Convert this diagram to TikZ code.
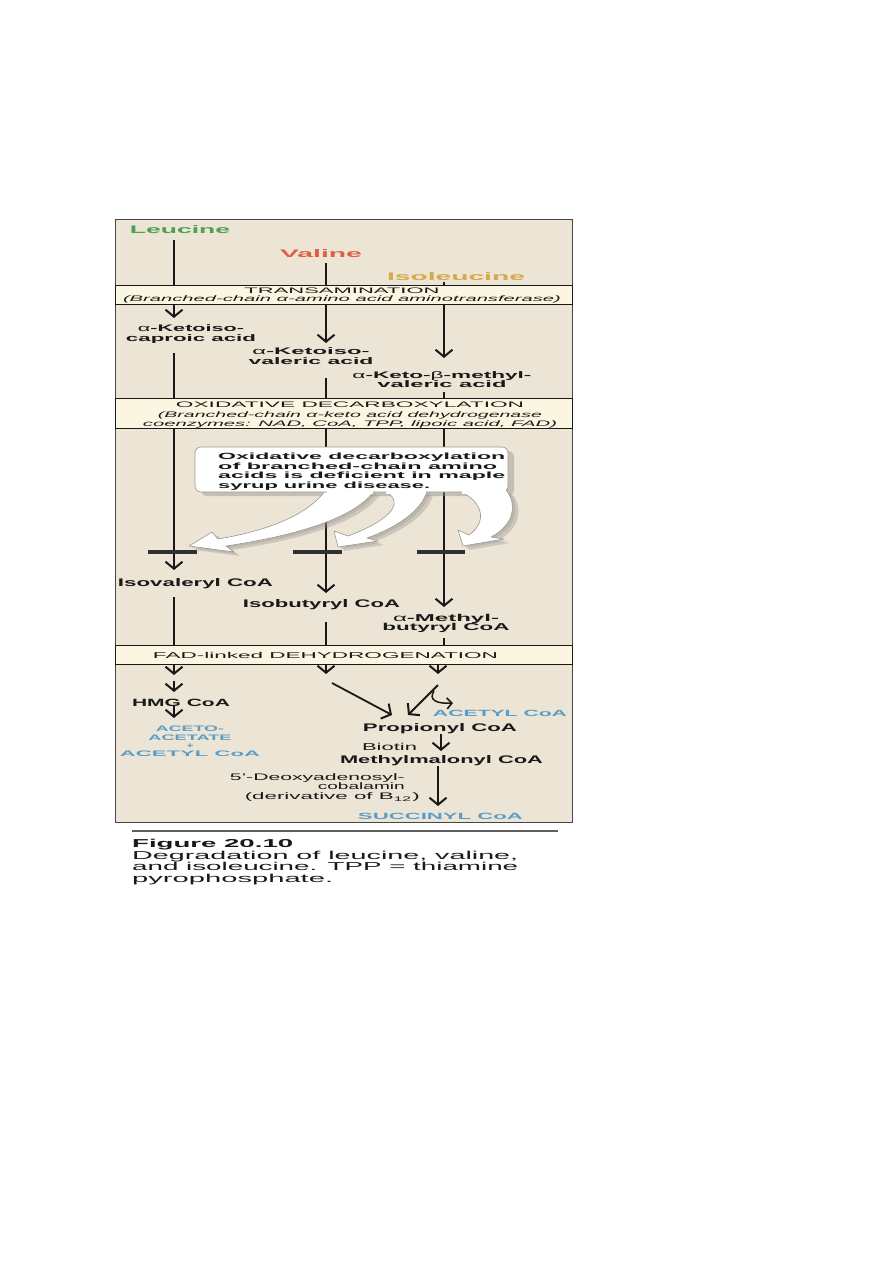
\documentclass[tikz,border=0pt]{standalone}
\usepackage{fontspec}
\setmainfont{Liberation Sans}
\usepackage{graphicx}
\usetikzlibrary{arrows.meta,calc}
\newcommand\fw[2]{\resizebox{#1pt}{\height}{#2}}
\newcommand\fs[2]{\fontsize{#1}{#2}\selectfont}
\definecolor{bg}{RGB}{236,228,213}
\definecolor{boxfill}{RGB}{250,246,226}
\definecolor{leuc}{RGB}{78,160,85}
\definecolor{valc}{RGB}{222,95,65}
\definecolor{ilec}{RGB}{214,170,72}
\definecolor{bluec}{RGB}{88,158,200}
\definecolor{ink}{RGB}{25,25,25}
\definecolor{shade}{RGB}{150,145,140}
\newcommand\pathA{(325,491) .. controls (305,518) and (260,532) .. (218,539) -- (212,532) -- (189,546) -- (234,552) -- (226,546) .. controls (280,538) and (352,522) .. (374,491) -- cycle}
\newcommand\pathB{(384,491) .. controls (404,500) and (396,518) .. (348,536) -- (334,531) -- (338,547) -- (378,541) -- (367,538) .. controls (398,527) and (422,510) .. (427,491) -- cycle}
\newcommand\pathC{(460,491) .. controls (484,503) and (487,522) .. (469,535) -- (458,530) -- (463,546) -- (504,539) -- (491,537) .. controls (514,525) and (517,505) .. (507,491) -- cycle}
\newcommand\pathBox{[rounded corners=6pt] (195,447) rectangle (508,492)}
\tikzset{
  txt/.style={inner sep=0pt, text=ink},
  conn/.style={line width=1.8pt, draw=ink},
  arr/.style={conn, -{Straight Barb[length=7pt,width=17pt,line width=2pt]}},
  band/.style={draw=ink, line width=1pt, fill=boxfill},
  blockbar/.style={line width=4pt, draw=ink!90},
  cshadow/.style={fill=shade, opacity=0.35},
  cwhite/.style={fill=white, draw=ink!45, line width=0.6pt, line join=round},
}
\begin{document}
\begin{tikzpicture}[x=1pt,y=-1pt]
\path[use as bounding box, fill=white] (0,0) rectangle (893,1263);
% panel
\draw[fill=bg, draw=ink!80, line width=0.8pt] (115,219) rectangle (572,822);
% bands
\node[band, minimum width=457pt, minimum height=19pt, anchor=north west, inner sep=0pt] (trans) at (115,285) {};
\node[band, minimum width=457pt, minimum height=30pt, anchor=north west, inner sep=0pt] (oxid) at (115,398) {};
\node[band, minimum width=457pt, minimum height=19pt, anchor=north west, inner sep=0pt] (fad) at (115,645) {};
% column coordinates
\coordinate (cL) at (174,0);
\coordinate (cV) at (326,0);
\coordinate (cI) at (444,0);
\coordinate (cI2) at (438,0);
% amino acids
\node[txt, font={\fs{11}{12}\bfseries}, text=leuc] (leu) at (180,230) {\fw{100}{Leucine}};
\node[txt, font={\fs{11}{12}\bfseries}, text=valc] (val) at (321,254) {\fw{82}{Valine}};
\node[txt, font={\fs{11}{12}\bfseries}, text=ilec] (ile) at (456,277) {\fw{138}{Isoleucine}};
% band texts
\node[txt, font={\fs{8}{8.5}}, align=center] (transT) at (342,295.3) {\fw{195}{TRANSAMINATION}\\{\itshape\fw{438}{(Branched-chain α-amino acid aminotransferase)}}};
\node[txt, font={\fs{8}{9.5}}, align=center] (oxidT) at (350,415.2) {\fw{348}{OXIDATIVE DECARBOXYLATION}\\{\itshape\fw{384}{(Branched-chain α-keto acid dehydrogenase}}\\{\itshape\fw{414}{coenzymes: NAD, CoA, TPP, lipoic acid, FAD)}}};
\node[txt, font={\fs{8.5}{9}}] (fadT) at (325.5,655.5) {\fw{345}{FAD-linked DEHYDROGENATION}};
% keto acids
\node[txt, font={\fs{9.5}{10}\bfseries}, align=center] (kL) at (191,334) {\fw{106}{{\mdseries α}-Ketoiso-}\\\fw{130}{caproic acid}};
\node[txt, font={\fs{9.5}{9.5}\bfseries}, align=center] (kV) at (311,356) {\fw{117}{{\mdseries α}-Ketoiso-}\\\fw{125}{valeric acid}};
\node[txt, font={\fs{9.5}{9.5}\bfseries}, align=center] (kI) at (442,379.5) {\fw{179}{{\mdseries α}-Keto-{\mdseries β}-methyl-}\\\fw{129}{valeric acid}};
% column connectors, upper part
\coordinate (leuout) at (174,240);
\coordinate (valout) at (326,263);
\coordinate (ileout) at (444,282);
\draw[conn] (leuout) -- (trans.north -| cL);
\draw[conn] (valout) -- (trans.north -| cV);
\draw[conn] (ileout) -- (trans.north -| cI);
\coordinate (kLin) at (174,318);
\coordinate (kVin) at (326,343);
\coordinate (kIin) at (444,358);
\draw[arr] (trans.south -| cL) -- (kLin);
\draw[arr] (trans.south -| cV) -- (kVin);
\draw[arr] (trans.south -| cI) -- (kIin);
\coordinate (kLout) at (174,353);
\coordinate (kVout) at (326,378);
\coordinate (kIout) at (444,392);
\draw[conn] (kLout) -- (oxid.north -| cL);
\draw[conn] (kVout) -- (oxid.north -| cV);
\draw[conn] (kIout) -- (oxid.north -| cI);
% CoA esters
\coordinate (cLin) at (174,570);
\coordinate (cVin) at (326,593);
\coordinate (cIin) at (444,607);
\draw[arr] (oxid.south -| cL) -- (cLin);
\draw[arr] (oxid.south -| cV) -- (cVin);
\draw[arr] (oxid.south -| cI) -- (cIin);
% callout: shadow, arrows, box
\begin{scope}[shift={(6,4)}]
  \fill[cshadow] \pathA;
  \fill[cshadow] \pathB;
  \fill[cshadow] \pathC;
  \fill[cshadow, opacity=0.45] \pathBox;
\end{scope}
\begin{scope}[shift={(3,2)}]
  \fill[cshadow, opacity=0.3] \pathA;
  \fill[cshadow, opacity=0.3] \pathB;
  \fill[cshadow, opacity=0.3] \pathC;
\end{scope}
\filldraw[cwhite] \pathA;
\filldraw[cwhite] \pathB;
\filldraw[cwhite] \pathC;
\filldraw[cwhite] \pathBox;
\fill[white] (326.5,486) rectangle (372.5,493.5);
\fill[white] (385.5,486) rectangle (425.5,493.5);
\fill[white] (461.5,486) rectangle (505.5,493.5);
\node[txt, font={\fs{9}{9.5}\bfseries}, align=left, anchor=west] (callout) at (218,471.5) {\fw{287}{Oxidative decarboxylation}\\\fw{279}{of branched-chain amino}\\\fw{287}{acids is deficient in maple}\\\fw{212}{syrup urine disease.}};
% blocking bars
\draw[blockbar] (148,552) -- (197,552);
\draw[blockbar] (293,552) -- (342,552);
\draw[blockbar] (417,552) -- (465,552);
% CoA labels
\node[txt, font={\fs{11}{12}\bfseries}] (isv) at (195.5,584) {\fw{155}{Isovaleryl CoA}};
\node[txt, font={\fs{11}{12}\bfseries}] (isb) at (321.5,605) {\fw{157}{Isobutyryl CoA}};
\node[txt, font={\fs{10}{9.5}\bfseries}, align=center] (mb) at (446,623.5) {\fw{106}{{\mdseries α}-Methyl-}\\\fw{127}{butyryl CoA}};
\coordinate (isvout) at (174,597);
\coordinate (isbout) at (326,622);
\coordinate (mbout) at (444,638);
\draw[conn] (isvout) -- (fad.north -| cL);
\draw[conn] (isbout) -- (fad.north -| cV);
\draw[conn] (mbout) -- (fad.north -| cI);
% lower part: leucine
\coordinate (l1) at (174,675);
\coordinate (l2a) at (174,681);
\coordinate (l2b) at (174,692);
\coordinate (l3a) at (174,705);
\coordinate (l3b) at (174,718);
\draw[arr] (fad.south -| cL) -- (l1);
\draw[arr] (l2a) -- (l2b);
\node[txt, font={\fs{10.5}{12}\bfseries}] (hmg) at (181,702.5) {\fw{98}{HMG CoA}};
\draw[arr] (l3a) -- (l3b);
\node[txt, font={\fs{8}{8.3}\bfseries}, text=bluec, align=center] (aceto) at (190,741.5) {\fw{68}{ACETO-}\\\fw{83}{ACETATE}\\\fw{7}{+}\\\fw{140}{ACETYL CoA}};
% valine
\coordinate (v1) at (326,674);
\coordinate (v2a) at (332,683);
\coordinate (v2b) at (392,715);
\draw[arr] (fad.south -| cV) -- (v1);
\draw[arr] (v2a) -- (v2b);
% isoleucine
\coordinate (i1) at (438,674);
\coordinate (i2a) at (438,685);
\coordinate (i2b) at (408,715);
\coordinate (i3a) at (434,691);
\coordinate (i3b) at (453,703);
\draw[arr] (fad.south -| cI2) -- (i1);
\draw[arr] (i2a) -- (i2b);
\draw[conn, line width=1.5pt, -{Straight Barb[length=5pt,width=11pt,line width=1.6pt]}] (i3a) .. controls (428,700) and (437,704) .. (i3b);
\node[txt, font={\fs{9}{10}\bfseries}, text=bluec] (acetR) at (500,713) {\fw{134}{ACETYL CoA}};
\node[txt, font={\fs{11}{12}\bfseries}] (prop) at (440,728.5) {\fw{154}{Propionyl CoA}};
\node[txt, font={\fs{10}{12}}] (biot) at (389.5,746.5) {\fw{55}{Biotin}};
\coordinate (p1) at (441,734);
\coordinate (p2) at (441,751);
\draw[arr] (p1) -- (p2);
\node[txt, font={\fs{11}{12}\bfseries}] (mm) at (441.5,761) {\fw{203}{Methylmalonyl CoA}};
\node[txt, font={\fs{9.5}{9.7}}, align=right, anchor=east] (deoxy) at (405,787.5) {\fw{175}{5'-Deoxyadenosyl-}\\\fw{87}{cobalamin}\\\fw{175}{(derivative of B\textsubscript{12})}\hspace*{-15pt}};
\coordinate (m1) at (438,766);
\coordinate (m2) at (438,806);
\draw[arr] (m1) -- (m2);
\node[txt, font={\fs{9}{10}\bfseries}, text=bluec] (succ) at (440.5,816) {\fw{165}{SUCCINYL CoA}};
% caption
\coordinate (capL) at (132,831);
\coordinate (capR) at (558,831);
\draw[draw=ink!70, line width=1.5pt] (capL) -- (capR);
\node[txt, font={\fs{11.5}{11.5}}, align=left, anchor=north west] (cap) at (132,839) {{\bfseries\fw{161}{Figure 20.10}}\\\fw{386}{Degradation of leucine, valine,}\\\fw{386}{and isoleucine. TPP = thiamine}\\\fw{201}{pyrophosphate.}};
\end{tikzpicture}
\end{document}
